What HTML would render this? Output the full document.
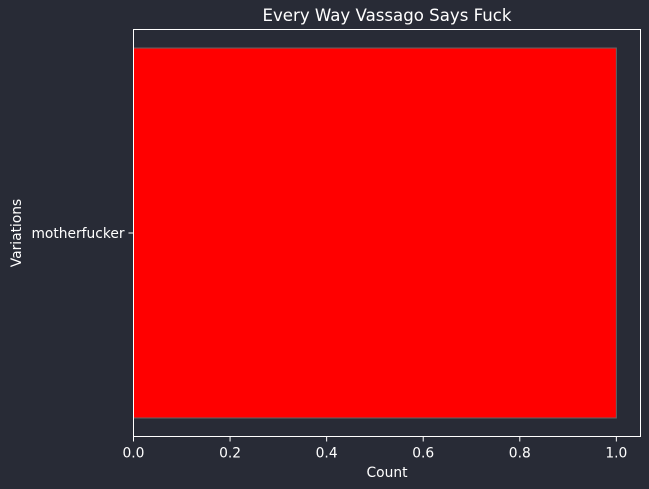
<!DOCTYPE html>
<html><head><meta charset="utf-8"><style>
body{margin:0;background:#282b36;overflow:hidden;}
svg{display:block;}
svg text{font-family:"DejaVu Sans","Liberation Sans",sans-serif;fill:#fff;}
</style></head><body>
<svg id="c" width="649" height="489">
<rect width="649" height="489" fill="#282b36"/>
<g id="plot"></g>
</svg>
<script>
const categories=["motherfucker"];
const counts=[1];
const xTicks=[0,0.2,0.4,0.6,0.8,1.0];
const xTickLabels=["0.0","0.2","0.4","0.6","0.8","1.0"];
const L=133.5,R=640.5,T=29.5,B=436.5;
const maxV=Math.max(...counts);
const xMax=maxV*1.05;
const n=categories.length;
const yMin=-0.44,yMax=(n-1)+0.44;
const x=v=>L+(v/xMax)*(R-L);
const y=v=>B-(v-yMin)/(yMax-yMin)*(B-T);
const g=document.getElementById('plot');
const NS="http://www.w3.org/2000/svg";
function mk(t,a,txt){const e=document.createElementNS(NS,t);for(const k in a)e.setAttribute(k,a[k]);if(txt!==undefined)e.textContent=txt;g.appendChild(e);return e;}
categories.forEach((c,i)=>{
  const b=mk('rect',{x:x(0),y:y(i+0.4),width:x(counts[i])-x(0),height:y(i-0.4)-y(i+0.4),fill:'#ff0000',stroke:'#666','stroke-width':1});
  
  
  const tk=mk('line',{x1:L-5,x2:L,y1:y(i),y2:y(i),stroke:'#fff'});
  
  
  const tl=mk('text',{x:L-9,y:y(i)+5,'text-anchor':'end','font-size':'13.8'},c);
  
  
});
const fr=mk('rect',{x:L,y:T,width:R-L,height:B-T,fill:'none',stroke:'#fff','stroke-width':1});


xTicks.forEach((v,i)=>{
  const t=mk('line',{x1:x(v),x2:x(v),y1:B,y2:B+5,stroke:'#fff'});
  
  
  const l=mk('text',{x:x(v),y:B+21,'text-anchor':'middle','font-size':'13.8'},xTickLabels[i]);
  
  
});
const xt=mk('text',{x:(L+R)/2,y:477,'text-anchor':'middle','font-size':'13.8'},'Count');


const yt=mk('text',{x:21,y:(T+B)/2,'text-anchor':'middle','font-size':'13.8',transform:`rotate(-90 21 ${(T+B)/2})`},'Variations');


const ti=mk('text',{x:(L+R)/2,y:21,'text-anchor':'middle','font-size':'16.6'},'Every Way Vassago Says Fuck');


</script>
</body></html>
